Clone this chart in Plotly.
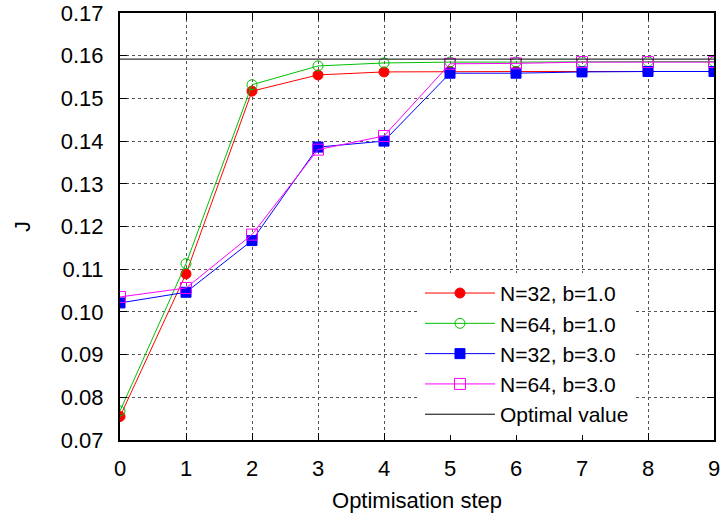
import plotly.graph_objects as go

steps = [0, 1, 2, 3, 4, 5, 6, 7, 8, 9]
j_n32_b1 = [0.0755, 0.1089, 0.1517, 0.1555, 0.1562, 0.1563, 0.1563, 0.1563, 0.1563, 0.1563]
j_n64_b1 = [0.0768, 0.1113, 0.1532, 0.1576, 0.1583, 0.1585, 0.1585, 0.1586, 0.1586, 0.1586]
j_n32_b3 = [0.1021, 0.1046, 0.1167, 0.1386, 0.1400, 0.1559, 0.1559, 0.1562, 0.1563, 0.1563]
j_n64_b3 = [0.1035, 0.1056, 0.1181, 0.1380, 0.1412, 0.1581, 0.1582, 0.1585, 0.1585, 0.1585]
optimal_value = 0.1592

series = [
    ("N=32, b=1.0", j_n32_b1, "#ff0000", "circle", 10),
    ("N=64, b=1.0", j_n64_b1, "#00c000", "circle-open", 10),
    ("N=32, b=3.0", j_n32_b3, "#0000ff", "square", 10),
    ("N=64, b=3.0", j_n64_b3, "#ff00ff", "square-open", 11),
]

fig = go.Figure()
for name, ys, col, sym, sz in series:
    fig.add_trace(go.Scatter(
        x=steps, y=ys, name=name, mode="lines+markers",
        line=dict(color=col, width=1),
        marker=dict(color=col, symbol=sym, size=sz, line=dict(color=col, width=1)),
    ))
fig.add_trace(go.Scatter(
    x=[steps[0], steps[-1]], y=[optimal_value, optimal_value],
    name="Optimal value", mode="lines", line=dict(color="#000000", width=1),
))

font = "Liberation Sans, Arial, sans-serif"
axis_common = dict(
    showline=True, linecolor="black", linewidth=2, mirror="allticks",
    ticks="inside", ticklen=7, tickcolor="black", tickwidth=1,
    showgrid=True, gridcolor="#555555", griddash="dot", gridwidth=1,
    zeroline=False, automargin=False,
    tickfont=dict(family=font, size=22, color="black"),
)
fig.update_layout(
    width=723, height=518,
    margin=dict(l=120, r=9, t=13, b=78),
    paper_bgcolor="white", plot_bgcolor="white",
    font=dict(family=font, size=22, color="black"),
    xaxis=dict(range=[0, 9], dtick=1, ticklabelstandoff=8,
               title=dict(text="Optimisation step", font=dict(size=22), standoff=12), **axis_common),
    yaxis=dict(range=[0.07, 0.17], dtick=0.01, tickformat=".2f", ticklabelstandoff=10,
               title=dict(text="J", font=dict(size=22), standoff=24), **axis_common),
    legend=dict(x=0.505, y=0.012, xanchor="left", yanchor="bottom", bgcolor="white",
                font=dict(family=font, size=21), itemwidth=70, tracegroupgap=0,
                borderwidth=0),
    showlegend=True,
)
fig.write_html("out.html")
